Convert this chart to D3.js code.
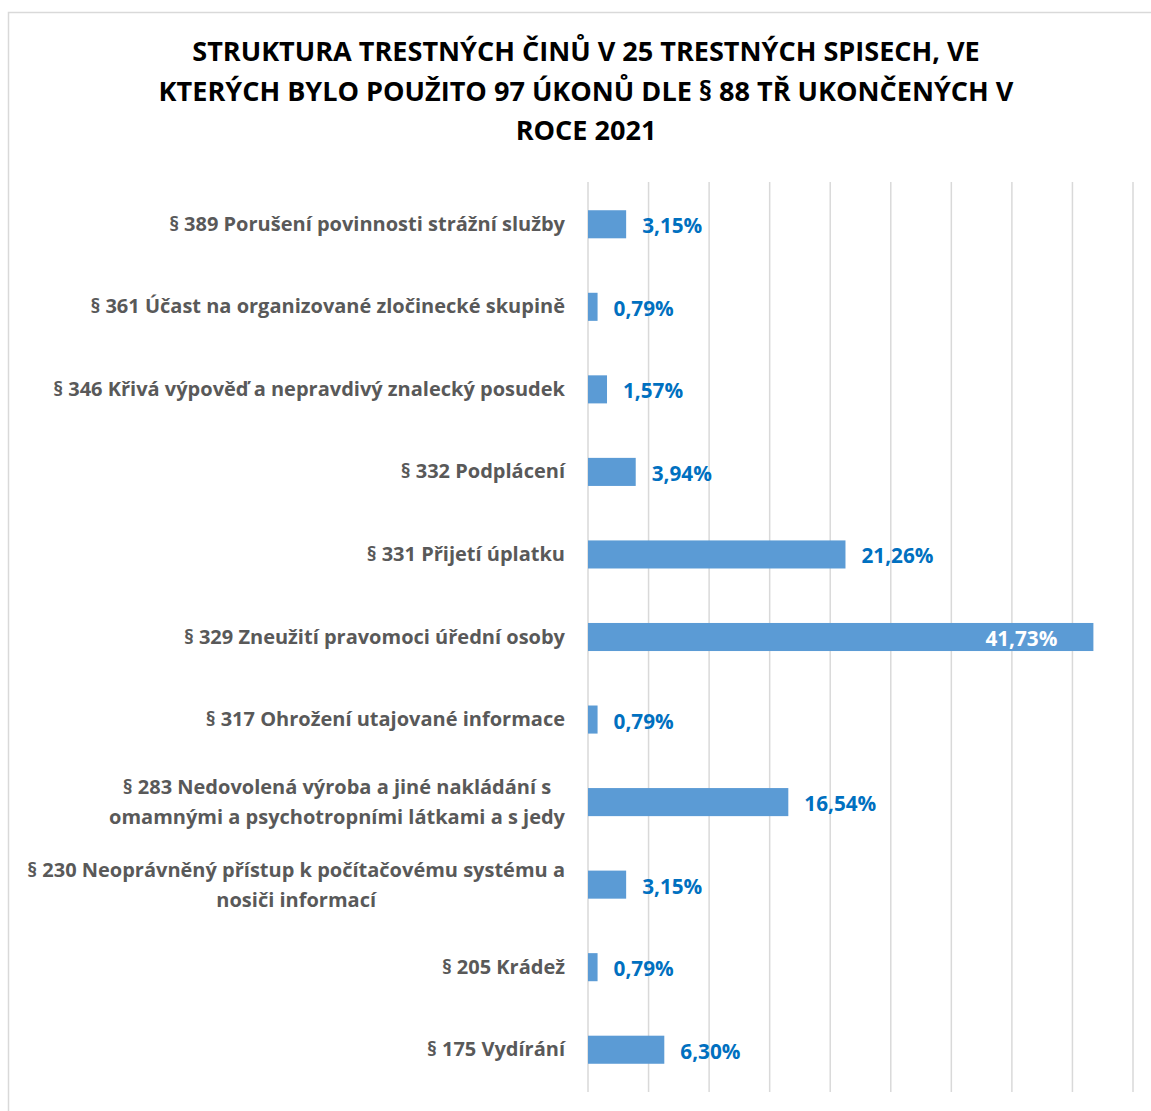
<!DOCTYPE html>
<html><head><meta charset="utf-8">
<script src="https://cdn.jsdelivr.net/npm/d3@7"></script>
<style>html,body{margin:0;padding:0;background:#fff;}svg{display:block;}</style>
</head><body>
<script>
const titleLines = ["STRUKTURA TRESTNÝCH ČINŮ V 25 TRESTNÝCH SPISECH, VE",
  "KTERÝCH BYLO POUŽITO 97 ÚKONŮ DLE § 88 TŘ UKONČENÝCH V",
  "ROCE 2021"];
const categories = [
  "§ 389 Porušení povinnosti strážní služby",
  "§ 361 Účast na organizované zločinecké skupině",
  "§ 346 Křivá výpověď a nepravdivý znalecký posudek",
  "§ 332 Podplácení",
  "§ 331 Přijetí úplatku",
  "§ 329 Zneužití pravomoci úřední osoby",
  "§ 317 Ohrožení utajované informace",
  "§ 283 Nedovolená výroba a jiné nakládání s\nomamnými a psychotropními látkami a s jedy",
  "§ 230 Neoprávněný přístup k počítačovému systému a\nnosiči informací",
  "§ 205 Krádež",
  "§ 175 Vydírání"
];
const values = [3.15, 0.79, 1.57, 3.94, 21.26, 41.73, 0.79, 16.54, 3.15, 0.79, 6.30];
const xTicks = [0, 5, 10, 15, 20, 25, 30, 35, 40, 45];

const W = 1151, H = 1111;
const font = "'Open Sans', 'Noto Sans', sans-serif";
const svg = d3.select("body").append("svg").attr("width", W).attr("height", H);

svg.append("rect").attr("x", 8.5).attr("y", 12.5).attr("width", W + 20).attr("height", H + 20)
  .attr("fill", "#fff").attr("stroke", "#d9d9d9").attr("stroke-width", 1.5);

function measure(text, weight, size) {
  const t = svg.append("text").attr("font-family", font).attr("font-weight", weight)
    .attr("font-size", size).text(text);
  const w = t.node().getComputedTextLength();
  t.remove();
  return w;
}
function fitSize(text, weight, target, base) {
  return base * target / measure(text, weight, base);
}

// Title
const titleSize = fitSize(titleLines[0], 700, 788, 24);
const title = svg.append("text").attr("font-family", font).attr("font-weight", 700)
  .attr("font-size", titleSize).attr("fill", "#000").attr("text-anchor", "middle");
titleLines.forEach((l, i) => {
  title.append("tspan").attr("x", 586).attr("y", 61 + i * 39.5).text(l);
});

const x = d3.scaleLinear().domain([0, 45]).range([588, 1133]);
const y = d3.scaleBand().domain(categories).range([183, 1091]).paddingInner(0.66).paddingOuter(0.33);

// gridlines
svg.append("g").selectAll("line").data(xTicks).join("line")
  .attr("x1", d => x(d)).attr("x2", d => x(d)).attr("y1", 182).attr("y2", 1092)
  .attr("stroke", "#d9d9d9").attr("stroke-width", 1.5);

// bars
svg.append("g").selectAll("rect").data(values).join("rect")
  .attr("x", x(0)).attr("y", (d, i) => y(categories[i]))
  .attr("width", d => x(d) - x(0)).attr("height", y.bandwidth())
  .attr("fill", "#5b9bd5");

// category labels
const catW = 700;
const catSize = fitSize("§ 230 Neoprávněný přístup k počítačovému systému a", catW, 538, 20);
const lineH = 30;
const rightEdge = 565;
const cg = svg.append("g").attr("font-family", font).attr("font-weight", catW)
  .attr("font-size", catSize).attr("fill", "#595959");
categories.forEach(c => {
  const lines = c.split("\n");
  const cy = y(c) + y.bandwidth() / 2;
  const t = cg.append("text").attr("dominant-baseline", "central");
  if (lines.length === 1) {
    t.attr("text-anchor", "end").attr("x", rightEdge).attr("y", cy - 1).text(c);
  } else {
    const maxW = d3.max(lines, l => measure(l, catW, catSize));
    const cx = rightEdge - maxW / 2;
    t.attr("text-anchor", "middle");
    lines.forEach((l, j) => {
      t.append("tspan").attr("x", cx).attr("y", cy - 1 + (j - (lines.length - 1) / 2) * lineH).text(l);
    });
  }
});

// value labels
const fmt = v => v.toFixed(2).replace(".", ",") + "%";
const valSize = fitSize("21,26%", 700, 72, 20);
const vg = svg.append("g").attr("font-family", font).attr("font-weight", 700).attr("font-size", valSize);
values.forEach((v, i) => {
  const cy = y(categories[i]) + y.bandwidth() / 2;
  const inside = v > 40;
  vg.append("text")
    .attr("x", inside ? x(v) - 36 : x(v) + 16)
    .attr("y", cy + 1)
    .attr("dominant-baseline", "central")
    .attr("text-anchor", inside ? "end" : "start")
    .attr("fill", inside ? "#ffffff" : "#0070c0")
    .text(fmt(v));
});
</script>
</body></html>
